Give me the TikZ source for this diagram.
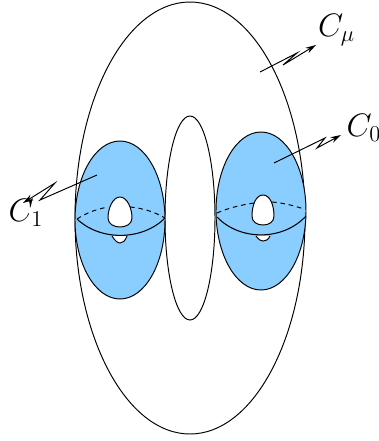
\documentclass[tikz,border=0pt]{standalone}
\usetikzlibrary{arrows.meta}
\definecolor{handleblue}{HTML}{8ACDFF}
\begin{document}
\begin{tikzpicture}[
        x=0.02cm, y=-0.02cm,
        surface/.style={draw, line width=0.55pt},
        handle/.style={surface, fill=handleblue},
        hole/.style={draw, line width=0.55pt, fill=white},
        front/.style={draw, line width=0.6pt},
        back/.style={draw, line width=0.55pt, dash pattern=on 2.6pt off 2.2pt},
        leader/.style={draw, line width=0.55pt, -{Stealth[length=6pt,width=3.5pt]}},
        tag/.style={font=\LARGE, scale=1.07, inner sep=0pt}
    ]
        \useasboundingbox (0,0) rectangle (379,441);

        % Superficie exterior
        \draw[surface] (190,218) ellipse [x radius=115, y radius=216];
        \draw[surface] (190,218) ellipse [x radius=25, y radius=102];

        % Asa izquierda
        \draw[handle] (120,220) ellipse [x radius=45, y radius=79];
        \draw[hole] (120,197) .. controls (113,197) and (108,208) .. (108,218)
            .. controls (108,224) and (114,227) .. (120,227)
            .. controls (126,227) and (132,224) .. (132,218)
            .. controls (132,208) and (127,197) .. (120,197) -- cycle;
        \draw[hole] (112,236) .. controls (115,241) and (118,243) .. (120,243)
            .. controls (123,243) and (125,241) .. (127,236);
        \draw[front] (77,219) .. controls (100,241) and (142,241) .. (165,218);
        \draw[back] (77,219) .. controls (86,213) and (97,209) .. (108,207);
        \draw[back] (130,207) .. controls (142,208) and (155,212) .. (165,218);

        % Asa derecha
        \draw[handle] (261,211) ellipse [x radius=45, y radius=79];
        \draw[hole] (263,195) .. controls (256,195) and (252,205) .. (252,216)
            .. controls (252,222) and (257,225) .. (263,225)
            .. controls (269,225) and (274,222) .. (274,216)
            .. controls (274,205) and (270,195) .. (263,195) -- cycle;
        \draw[hole] (256,236) .. controls (259,240) and (261,241) .. (263,241)
            .. controls (266,241) and (268,240) .. (270,236);
        \draw[front] (217,217) .. controls (240,241) and (283,241) .. (306,216);
        \draw[back] (217,213) .. controls (228,208) and (241,205) .. (254,203);
        \draw[back] (272,202) .. controls (284,203) and (295,206) .. (304,209);

        % Etiquetas
        \node[tag] (cmu) at (336.5,30) {$C_\mu$};
        \node[tag] (czero) at (364,128) {$C_0$};
        \node[tag] (cone) at (26,213) {$C_1$};

        \coordinate (pmu) at (260,72);
        \coordinate (pzero) at (274,163);
        \coordinate (pone) at (97,175);
        \coordinate (kmu) at (297,53);
        \coordinate (lmu) at (283,65);
        \coordinate (emu) at (316,45);
        \coordinate (kzero) at (325,138);
        \coordinate (lzero) at (317,148);
        \coordinate (ezero) at (341,135);
        \coordinate (kone) at (40,200);
        \coordinate (lone) at (55,183);
        \coordinate (eone) at (23,203);

        \draw[leader] (pmu) -- (kmu) -- (lmu) -- (emu);
        \draw[leader] (pzero) -- (kzero) -- (lzero) -- (ezero);
        \draw[leader] (pone) -- (kone) -- (lone) -- (eone);
    \end{tikzpicture}
\end{document}
